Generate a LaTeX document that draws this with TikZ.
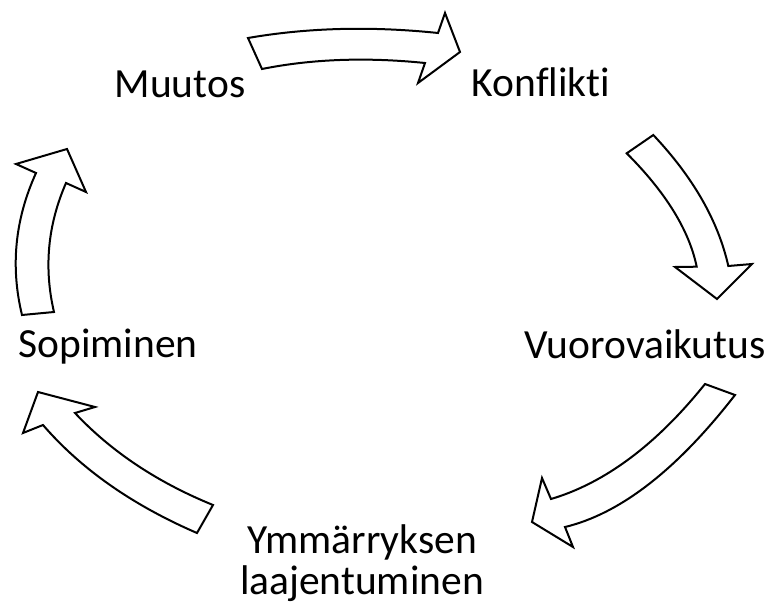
\documentclass[tikz,border=0pt]{standalone}
\usepackage{fontspec}
\setmainfont{Carlito}[Ligatures=NoCommon]
\usepackage{tikz}
\usetikzlibrary{positioning,calc}

\tikzset{
    lbl/.style={font=\fontsize{41.5}{35}\selectfont, inner sep=0pt, anchor=base, align=center},
    blockarrow/.style={draw, fill=white, line width=2pt, line join=miter}
}

\begin{document}
\begin{tikzpicture}[x=1pt, y=-1pt]
    \useasboundingbox (0,0) rectangle (773,604);

    \node[lbl] (muutos) at (180,98) {Muutos};
    \node[lbl] (konflikti) at (541,97) {Konflikti};
    \node[lbl] (vuoro) at (645,358) {Vuorovaikutus};
    \node[lbl] (ymmarrys) at (362,594) {Ymmärryksen\\[4pt]laajentuminen};
    \node[lbl] (sopiminen) at (108,357) {Sopiminen};

    % Muutos -> Konflikti
    \draw[blockarrow] (248,38) .. controls (307.3,27.7) and (370.7,26) .. (438,33)
        -- (445,13) -- (460,52) -- (418,83) -- (425,63)
        .. controls (366,57) and (311.7,59) .. (262,69) -- cycle;
    % Konflikti -> Vuorovaikutus
    \draw[blockarrow] (653.3,135) .. controls (693.2,177.3) and (718.2,221) .. (728.3,266)
        -- (752,264) -- (717,299) -- (675,267) -- (696.7,266.7)
        .. controls (689.1,230.2) and (665.8,192.4) .. (626.7,153.3) -- cycle;
    % Vuorovaikutus -> Ymmarryksen laajentuminen
    \draw[blockarrow] (705,384) .. controls (656.4,444.6) and (605,483) .. (551,499)
        -- (542,478) -- (532,522) -- (573,547) -- (565,527)
        .. controls (620.3,513.7) and (677,469.7) .. (735,395) -- cycle;
    % Ymmarryksen laajentuminen -> Sopiminen
    \draw[blockarrow] (213,505) .. controls (157.3,482.3) and (111.3,451.7) .. (75,413)
        -- (95,407) -- (38,392) -- (23,433) -- (43,425)
        .. controls (81,469) and (132.3,505) .. (197,533) -- cycle;
    % Sopiminen -> Muutos
    \draw[blockarrow] (54,312) .. controls (43.7,267.9) and (47.7,224.9) .. (66,183)
        -- (86,192) -- (67,149) -- (16,164) -- (36,173)
        .. controls (14.9,219.4) and (10.3,266.7) .. (22,315) -- cycle;
\end{tikzpicture}
\end{document}
